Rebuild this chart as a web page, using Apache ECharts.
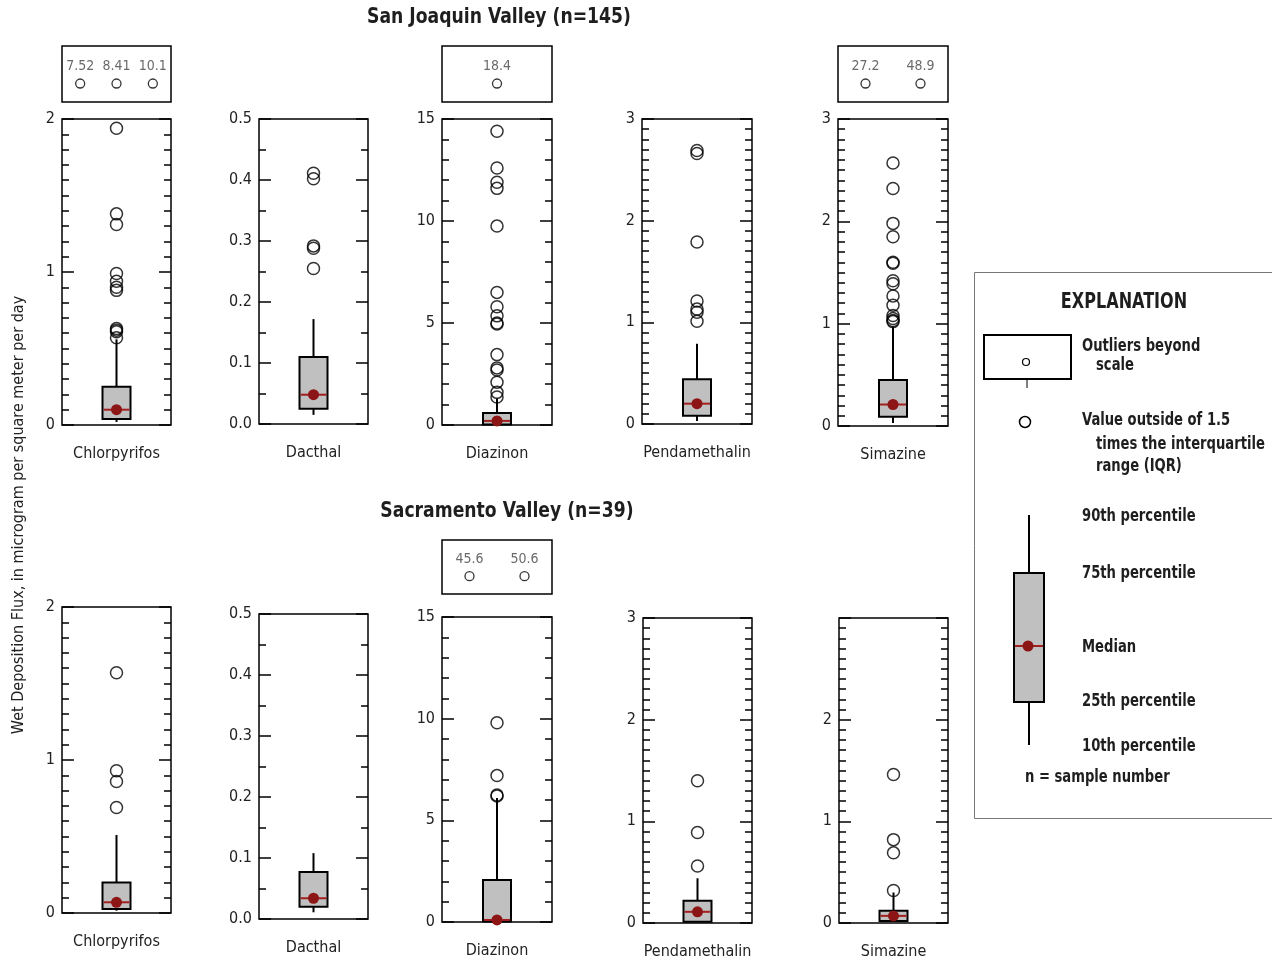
<!DOCTYPE html>
<html>
<head>
<meta charset="utf-8">
<title>Wet deposition flux of pesticides</title>
<script src="https://cdn.jsdelivr.net/npm/echarts@6/dist/echarts.min.js"></script>
<style>
  html, body { margin: 0; padding: 0; background: #fff; }
  #chart { width: 1272px; height: 963px; }
</style>
</head>
<body>
<div id="chart"></div>
<script>
// ---- Data -------------------------------------------------------------
const pesticides = ['Chlorpyrifos', 'Dacthal', 'Diazinon', 'Pendamethalin', 'Simazine'];
const regionTitles = ['San Joaquin Valley (n=145)', 'Sacramento Valley (n=39)'];
const yAxisTitle = 'Wet Deposition Flux, in microgram per square meter per day';

// Box statistics: [10th pct, 25th pct, median, 75th pct, 90th pct]
const sjvChlorpyrifos  = [0.02, 0.04, 0.10, 0.25, 0.56];
const sjvDacthal       = [0.015, 0.025, 0.048, 0.110, 0.172];
const sjvDiazinon      = [0.005, 0.03, 0.20, 0.59, 1.30];
const sjvPendamethalin = [0.03, 0.08, 0.20, 0.44, 0.79];
const sjvSimazine      = [0.03, 0.09, 0.21, 0.45, 0.97];

const sacChlorpyrifos  = [0.015, 0.026, 0.07, 0.20, 0.51];
const sacDacthal       = [0.011, 0.020, 0.034, 0.077, 0.108];
const sacDiazinon      = [0.01, 0.03, 0.10, 2.07, 6.10];
const sacPendamethalin = [0.01, 0.012, 0.11, 0.22, 0.44];
const sacSimazine      = [0.01, 0.02, 0.07, 0.12, 0.30];

// Values outside 1.5 x IQR, on scale
const sjvChlorpyrifosOut  = [1.94, 1.38, 1.31, 0.99, 0.94, 0.90, 0.88, 0.63, 0.62, 0.61, 0.57];
const sjvDacthalOut       = [0.411, 0.402, 0.292, 0.288, 0.255];
const sjvDiazinonOut      = [14.4, 12.6, 11.9, 11.6, 9.75, 6.5, 5.8, 5.35, 5.0, 4.95, 3.45, 2.8, 2.7, 2.1, 1.6, 1.37];
const sjvPendamethalinOut = [2.69, 2.66, 1.79, 1.21, 1.13, 1.10, 1.01];
const sjvSimazineOut      = [2.57, 2.32, 1.98, 1.85, 1.60, 1.59, 1.42, 1.39, 1.27, 1.18, 1.08, 1.05, 1.03, 1.02];

const sacChlorpyrifosOut  = [1.57, 0.93, 0.86, 0.69];
const sacDacthalOut       = [];
const sacDiazinonOut      = [9.8, 7.2, 6.25, 6.2];
const sacPendamethalinOut = [1.40, 0.89, 0.56];
const sacSimazineOut      = [1.46, 0.82, 0.69, 0.32];

// Values beyond the plotted scale (shown in the small boxes above)
const sjvChlorpyrifosBeyond = ['7.52', '8.41', '10.1'];
const sjvDiazinonBeyond     = ['18.4'];
const sjvSimazineBeyond     = ['27.2', '48.9'];
const sacDiazinonBeyond     = ['45.6', '50.6'];

// Y-axis scales per pesticide
const axisMax     = [2, 0.5, 15, 3, 3];
const axisStep    = [1, 0.1, 5, 1, 1];
const minorSplit  = [10, 2, 5, 10, 10];
const labelDigits = [0, 1, 0, 0, 0];

// ---- Layout -------------------------------------------------------------
const FONT = '"Liberation Sans Narrow", "Arial Narrow", "DejaVu Sans Condensed", "Roboto", sans-serif';
// [left, top, width, height]
const topPlots = [[62, 119, 109, 306], [259, 119, 109, 305], [442, 119, 110, 306], [642, 119, 110, 305], [838, 119, 110, 307]];
const botPlots = [[62, 607, 109, 306], [259, 614, 109, 305], [442, 617, 110, 305], [643, 618, 109, 305], [839, 618, 109, 305]];

const grids = [], xAxes = [], yAxes = [], series = [];

function renderBox(params, api) {
  const x = api.value(0);
  const cx = api.coord([x, 0])[0];
  const y = v => api.coord([x, v])[1];
  const p10 = y(api.value(1)), q1 = y(api.value(2)), med = y(api.value(3)), q3 = y(api.value(4)), p90 = y(api.value(5));
  const hw = 14;
  return {
    type: 'group',
    children: [
      { type: 'line', shape: { x1: cx, y1: p90, x2: cx, y2: q3 }, style: { stroke: '#000', lineWidth: 2 } },
      { type: 'line', shape: { x1: cx, y1: q1, x2: cx, y2: p10 }, style: { stroke: '#000', lineWidth: 2 } },
      { type: 'rect', shape: { x: cx - hw, y: q3, width: hw * 2, height: q1 - q3 }, style: { fill: '#c0c0c0', stroke: '#000', lineWidth: 2 } },
      { type: 'line', shape: { x1: cx - hw + 1, y1: med, x2: cx + hw - 1, y2: med }, style: { stroke: '#a31f1f', lineWidth: 2 } },
      { type: 'circle', shape: { cx: cx, cy: med, r: 5.5 }, style: { fill: '#8c1515' } }
    ]
  };
}

function addPanel(rect, p, stats, outliers, hideTop) {
  const gi = grids.length;
  grids.push({ left: rect[0], top: rect[1], width: rect[2], height: rect[3],
    show: true, borderColor: '#000', borderWidth: 1.5, backgroundColor: 'transparent' });
  xAxes.push({ type: 'category', gridIndex: gi, data: [pesticides[p]],
    axisLine: { show: false }, axisTick: { show: false },
    axisLabel: { margin: 21, fontSize: 16, color: '#222', fontFamily: FONT } });
  const common = {
    type: 'value', gridIndex: gi, min: 0, max: axisMax[p], interval: axisStep[p],
    axisLine: { show: false }, splitLine: { show: false },
    axisTick: { show: true, inside: true, length: 12, lineStyle: { color: '#000', width: 1.5 } },
    minorTick: { show: true, splitNumber: minorSplit[p], length: 7, lineStyle: { color: '#000', width: 1.5 } },
    minorSplitLine: { show: false }
  };
  const yl = yAxes.length;
  yAxes.push(Object.assign({}, common, { position: 'left',
    axisLabel: { margin: 7, fontSize: 16, color: '#222', fontFamily: FONT,
      formatter: v => (hideTop && v >= axisMax[p]) ? '' : v.toFixed(labelDigits[p]) } }));
  yAxes.push(Object.assign({}, common, { position: 'right', axisLabel: { show: false } }));
  series.push({ type: 'custom', xAxisIndex: gi, yAxisIndex: yl, renderItem: renderBox,
    data: [[0].concat(stats)], z: 2, silent: true });
  series.push({ type: 'scatter', xAxisIndex: gi, yAxisIndex: yl, symbol: 'circle', symbolSize: 12,
    itemStyle: { color: 'rgba(0,0,0,0)', borderColor: '#000', borderWidth: 1.5 },
    data: outliers.map(v => [0, v]), z: 3, silent: true });
}

function addBeyondBox(rect, labels) {
  const gi = grids.length;
  grids.push({ left: rect[0], top: rect[1], width: rect[2], height: rect[3],
    show: true, borderColor: '#000', borderWidth: 1.5, backgroundColor: 'transparent' });
  xAxes.push({ type: 'category', gridIndex: gi, data: labels, show: false });
  yAxes.push({ type: 'value', gridIndex: gi, min: 0, max: 1, show: false });
  series.push({ type: 'scatter', xAxisIndex: gi, yAxisIndex: yAxes.length - 1,
    symbol: 'circle', symbolSize: 9,
    itemStyle: { color: 'rgba(0,0,0,0)', borderColor: '#000', borderWidth: 1.3 },
    label: { show: true, position: 'top', distance: 5, fontSize: 14, color: '#444', fontFamily: FONT,
      formatter: d => labels[d.dataIndex] },
    data: labels.map((s, i) => [i, 0.33]), silent: true });
}

const sjvStats = [sjvChlorpyrifos, sjvDacthal, sjvDiazinon, sjvPendamethalin, sjvSimazine];
const sjvOut = [sjvChlorpyrifosOut, sjvDacthalOut, sjvDiazinonOut, sjvPendamethalinOut, sjvSimazineOut];
const sacStats = [sacChlorpyrifos, sacDacthal, sacDiazinon, sacPendamethalin, sacSimazine];
const sacOut = [sacChlorpyrifosOut, sacDacthalOut, sacDiazinonOut, sacPendamethalinOut, sacSimazineOut];

pesticides.forEach((name, p) => addPanel(topPlots[p], p, sjvStats[p], sjvOut[p], false));
pesticides.forEach((name, p) => addPanel(botPlots[p], p, sacStats[p], sacOut[p], p === 4));

addBeyondBox([62, 46, 109, 56], sjvChlorpyrifosBeyond);
addBeyondBox([442, 46, 110, 56], sjvDiazinonBeyond);
addBeyondBox([838, 46, 110, 56], sjvSimazineBeyond);
addBeyondBox([442, 540, 110, 54], sacDiazinonBeyond);

// ---- Titles and explanation panel ------------------------------------------
// Bold condensed-looking text: horizontally squeezed around its anchor point
const boldText = (x, y, text, size, align, squeeze) => ({
  type: 'text', x: x, y: y, scaleX: squeeze || 0.86,
  style: { text: text, fontFamily: FONT, fontWeight: 'bold', fontSize: size, fill: '#1e1e1e',
    align: align || 'left', verticalAlign: 'middle' }
});
const BLACK = { stroke: '#000', lineWidth: 2, fill: 'none' };

const graphic = [
  boldText(499, 17, regionTitles[0], 22, 'center', 0.87),
  boldText(507, 511, regionTitles[1], 22, 'center', 0.87),
  { type: 'text', x: 19, y: 515, rotation: Math.PI / 2,
    style: { text: yAxisTitle, fontFamily: FONT, fontSize: 16, fill: '#222', align: 'center', verticalAlign: 'middle' } },

  { type: 'rect', shape: { x: 974.5, y: 272.5, width: 320, height: 546 }, style: { fill: '#fff', stroke: '#777', lineWidth: 1 }, z: -1 },
  boldText(1124, 303, 'EXPLANATION', 21, 'center', 0.85),
  { type: 'rect', shape: { x: 984, y: 335, width: 87, height: 44 }, style: BLACK },
  { type: 'circle', shape: { cx: 1026, cy: 362, r: 3.5 }, style: { fill: 'none', stroke: '#000', lineWidth: 1.2 } },
  { type: 'line', shape: { x1: 1027, y1: 380, x2: 1027, y2: 388 }, style: { stroke: '#000', lineWidth: 1 } },
  { type: 'circle', shape: { cx: 1025, cy: 422, r: 5.5 }, style: { fill: 'none', stroke: '#000', lineWidth: 1.5 } },
  boldText(1082, 347, 'Outliers beyond', 17),
  boldText(1096, 366, 'scale', 17),
  boldText(1082, 421, 'Value outside of 1.5', 17),
  boldText(1096, 445, 'times the interquartile', 17),
  boldText(1096, 467, 'range (IQR)', 17),
  { type: 'line', shape: { x1: 1029, y1: 515, x2: 1029, y2: 745 }, style: { stroke: '#000', lineWidth: 2 } },
  { type: 'rect', shape: { x: 1014, y: 573, width: 30, height: 129 }, style: { fill: '#c0c0c0', stroke: '#000', lineWidth: 2 } },
  { type: 'line', shape: { x1: 1015, y1: 646, x2: 1043, y2: 646 }, style: { stroke: '#a31f1f', lineWidth: 2 } },
  { type: 'circle', shape: { cx: 1028, cy: 646, r: 5.5 }, style: { fill: '#8c1515' } },
  boldText(1082, 517, '90th percentile', 17),
  boldText(1082, 574, '75th percentile', 17),
  boldText(1082, 648, 'Median', 17),
  boldText(1082, 702, '25th percentile', 17),
  boldText(1082, 747, '10th percentile', 17),
  boldText(1025, 778, 'n = sample number', 17)
];

const chart = echarts.init(document.getElementById('chart'), null, { renderer: 'canvas' });
chart.setOption({
  animation: false,
  backgroundColor: '#fff',
  grid: grids,
  xAxis: xAxes,
  yAxis: yAxes,
  series: series,
  graphic: graphic
});
</script>
</body>
</html>
